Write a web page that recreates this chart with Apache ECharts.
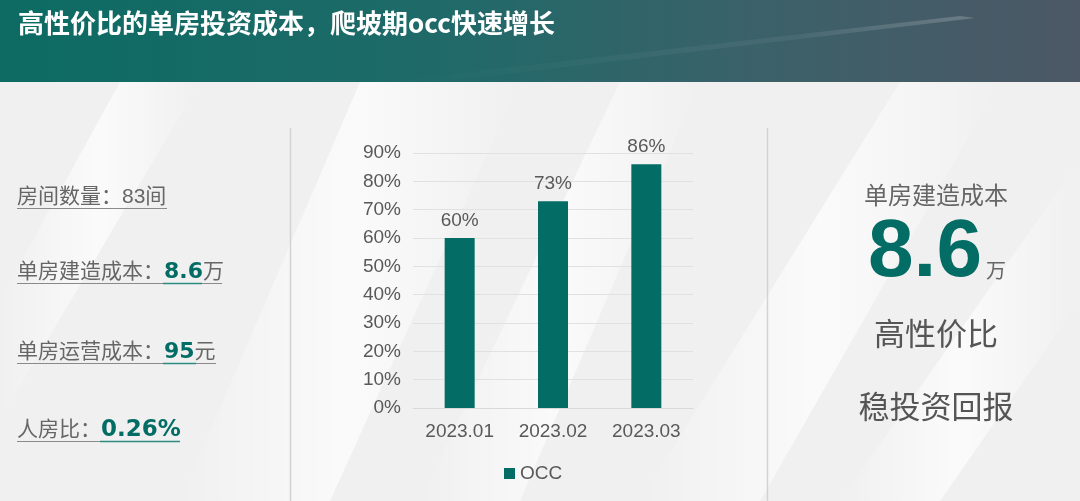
<!DOCTYPE html>
<html><head><meta charset="utf-8">
<script src="https://cdn.jsdelivr.net/npm/echarts@6/dist/echarts.min.js"></script>
<style>html,body{margin:0;padding:0;background:#f1f1f1;}#c{width:1080px;height:501px;}</style>
</head><body><div id="c"></div>
<script>
const title = '高性价比的单房投资成本，爬坡期occ快速增长';
const categories = ['2023.01', '2023.02', '2023.03'];
const occValues = [60, 73, 86];
const seriesName = 'OCC';
const yMin = 0, yMax = 90, yStep = 10;
const leftItems = [
  {label: '房间数量：', value: '83', unit: '间', hi: false},
  {label: '单房建造成本：', value: '8.6', unit: '万', hi: true},
  {label: '单房运营成本：', value: '95', unit: '元', hi: true},
  {label: '人房比：', value: '0.26%', unit: '', hi: true}
];
const rightTitle = '单房建造成本';
const rightValue = '8.6';
const rightUnit = '万';
const rightLines = ['高性价比', '稳投资回报'];

const TEAL = '#036c65';
const GRAY = '#595959';
const FONT = '"Liberation Sans", "Noto Sans CJK SC", sans-serif';
const BOLDNUM = '"DejaVu Sans", "Noto Sans CJK SC", sans-serif';
const CJK = '"Noto Sans CJK SC", sans-serif';

const chart = echarts.init(document.getElementById('c'));

const leftY = [197, 272, 352, 430];
const underline = [
  {end: 167, hs: 0, he: 0},
  {end: 222, hs: 163, he: 202},
  {end: 216, hs: 163, he: 196},
  {end: 180, hs: 100, he: 180}
];
const graphics = [];
// background swooshes
graphics.push({type: 'rect', z: -10, shape: {x: 0, y: 82, width: 1080, height: 419}, style: {fill: '#f0f0f0'}});
[[ [180,501],[360,82],[520,82],[330,501] ], [ [640,501],[900,82],[1000,82],[760,501] ], [ [840,501],[1080,160],[1080,300],[940,501] ], [ [0,300],[120,82],[200,82],[0,420] ], [ [420,501],[620,82],[700,82],[520,501] ]].forEach(function(p){
  graphics.push({type: 'polygon', z: -9, shape: {points: p}, style: {fill: new echarts.graphic.LinearGradient(0,0,1,0,[{offset:0,color:'rgba(255,255,255,0)'},{offset:0.5,color:'rgba(255,255,255,0.7)'},{offset:1,color:'rgba(255,255,255,0)'}])}});
});
// header
graphics.push({type: 'rect', z: -8, shape: {x: 0, y: 0, width: 1080, height: 82},
  style: {fill: new echarts.graphic.LinearGradient(0, 0, 1, 0, [
    {offset: 0, color: '#0c6b63'}, {offset: 0.4, color: '#1f6a69'}, {offset: 0.7, color: '#3b6169'}, {offset: 1, color: '#4c5866'}])}});
graphics.push({type: 'polygon', z: -7, shape: {points: [[380,82],[960,16],[975,18],[440,82]]},
  style: {fill: new echarts.graphic.LinearGradient(0,0,1,0,[{offset:0,color:'rgba(255,255,255,0)'},{offset:0.7,color:'rgba(255,255,255,0.06)'},{offset:1,color:'rgba(255,255,255,0.2)'}])}});
graphics.push({type: 'text', z: 10, style: {x: 18, y: 23, text: title, fill: '#ffffff', font: '600 26px ' + CJK, verticalAlign: 'middle'}});
// separators
graphics.push({type: 'line', z: 1, shape: {x1: 290.5, y1: 128, x2: 290.5, y2: 501}, style: {stroke: '#d2d2d2', lineWidth: 1.5}});
graphics.push({type: 'line', z: 1, shape: {x1: 767.5, y1: 128, x2: 767.5, y2: 501}, style: {stroke: '#d2d2d2', lineWidth: 1.5}});
// left items
leftItems.forEach(function(it, i){
  const y = leftY[i];
  const big = i === 3 ? 23 : 22;
  graphics.push({type: 'text', z: 10, style: {x: 17, y: y, verticalAlign: 'middle',
    text: '{a|' + it.label + '}{' + (it.hi ? 'b' : 'a') + '|' + it.value + '}' + (it.unit ? '{a|' + it.unit + '}' : ''),
    rich: {a: {fontSize: 21, fontFamily: FONT, fill: '#666', color: '#666'},
           b: {fontSize: big, fontWeight: 'bold', fontFamily: BOLDNUM, fill: TEAL, color: TEAL}}}});
  const ly = y + 11.5;
  graphics.push({type: 'line', z: 9, shape: {x1: 17, y1: ly, x2: underline[i].end, y2: ly}, style: {stroke: '#8a8a8a', lineWidth: 1.2}});
  if (it.hi) graphics.push({type: 'line', z: 9, shape: {x1: underline[i].hs, y1: ly, x2: underline[i].he, y2: ly}, style: {stroke: '#2f8a80', lineWidth: 1.4}});
});
// right panel
graphics.push({type: 'text', z: 10, style: {x: 936, y: 195, text: rightTitle, align: 'center', verticalAlign: 'middle', fill: '#666', font: '24px ' + CJK}});
graphics.push({type: 'text', z: 10, style: {x: 925, y: 253, text: rightValue, align: 'center', verticalAlign: 'middle', fill: TEAL, font: 'bold 82px "Liberation Sans", sans-serif'}});
graphics.push({type: 'text', z: 10, style: {x: 986, y: 270, text: rightUnit, align: 'left', verticalAlign: 'middle', fill: '#666', font: '20px ' + CJK}});
graphics.push({type: 'text', z: 10, style: {x: 936, y: 333, text: rightLines[0], align: 'center', verticalAlign: 'middle', fill: '#555', font: '31px ' + CJK}});
graphics.push({type: 'text', z: 10, style: {x: 936, y: 406, text: rightLines[1], align: 'center', verticalAlign: 'middle', fill: '#555', font: '31px ' + CJK}});

chart.setOption({
  backgroundColor: 'transparent',
  animation: false,
  graphic: graphics,
  grid: {left: 413, right: 387, top: 153, bottom: 93, containLabel: false},
  legend: {data: [seriesName], left: 499, top: 459, icon: 'rect', itemWidth: 11, itemHeight: 11, itemGap: 6,
    textStyle: {fontSize: 19, color: GRAY, fontFamily: FONT}},
  xAxis: {type: 'category', data: categories,
    axisLine: {lineStyle: {color: '#d9d9d9'}}, axisTick: {show: false},
    axisLabel: {fontSize: 19, color: GRAY, margin: 14, fontFamily: FONT}},
  yAxis: {type: 'value', min: yMin, max: yMax, interval: yStep,
    axisLine: {show: false}, axisTick: {show: false},
    splitLine: {lineStyle: {color: '#e1e1e1'}},
    axisLabel: {formatter: '{value}%', fontSize: 19, color: GRAY, margin: 12, fontFamily: FONT}},
  series: [{name: seriesName, type: 'bar', data: occValues, barWidth: 30,
    itemStyle: {color: TEAL},
    label: {show: true, position: 'top', distance: 8, formatter: '{c}%', fontSize: 19, color: GRAY, fontFamily: FONT}}]
});
</script></body></html>
